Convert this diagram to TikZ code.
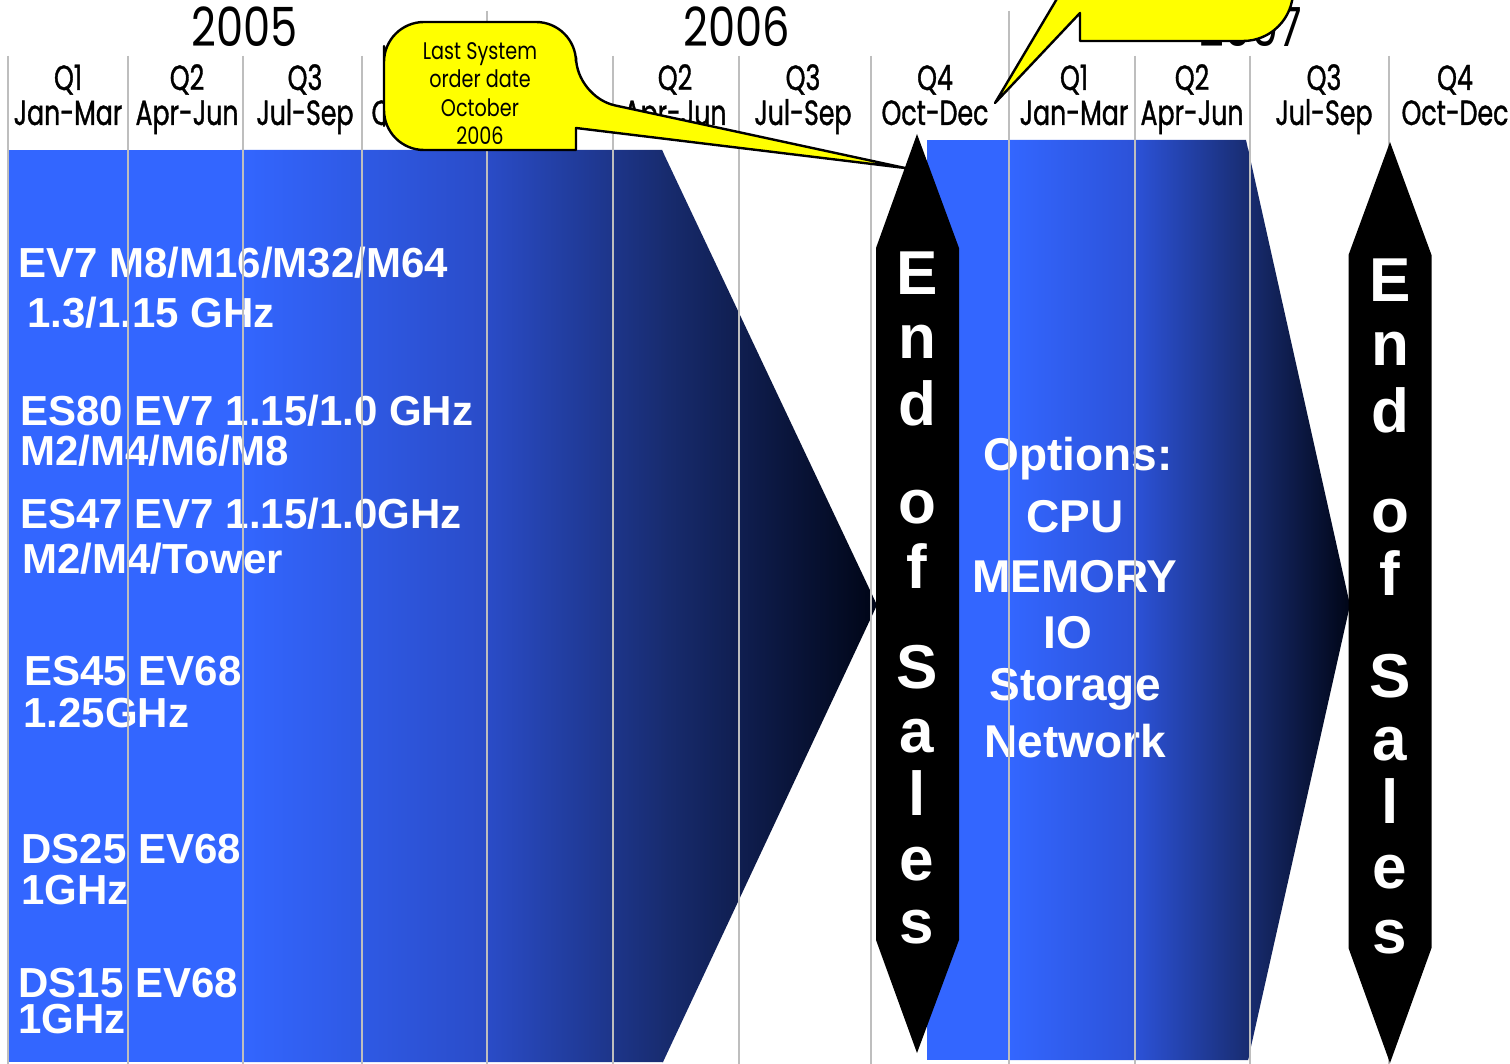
\documentclass[tikz,border=0pt]{standalone}
\usepackage{fontspec}
\setmainfont{Liberation Sans}
\newfontfamily\hdrfont[FakeStretch=0.8]{Poppins}
\newfontfamily\qfont[FakeStretch=0.72,FakeBold=1]{Poppins}
\definecolor{bA}{RGB}{51,102,255}
\definecolor{bB}{RGB}{42,76,200}
\definecolor{bC}{RGB}{24,44,112}
\definecolor{bD}{RGB}{0,5,22}
\definecolor{bE}{RGB}{44,82,216}
\definecolor{gridgray}{RGB}{190,190,190}
\definecolor{calloutyellow}{RGB}{255,255,0}
\begin{document}
\begin{tikzpicture}[x=0.5pt,y=-0.5pt,
  gridline/.style={draw=gridgray, line width=0.75pt},
  yr/.style={inner sep=0, anchor=base, font=\hdrfont\fontsize{27}{27}\selectfont},
  qlab/.style={inner sep=0, anchor=base, font=\qfont\fontsize{17.5}{17.5}\selectfont},
  prod/.style={inner sep=0, anchor=base west, text=white, font=\bfseries\fontsize{21}{21}\selectfont},
  opt/.style={inner sep=0, anchor=base, text=white, font=\bfseries\fontsize{23}{23}\selectfont},
  eos/.style={inner sep=0, anchor=base, text=white, font=\bfseries\fontsize{31}{31}\selectfont},
  callout/.style={fill=calloutyellow, draw=black, line width=1.2pt, line join=round},
  calltext/.style={inner sep=0, anchor=base, font=\hdrfont\fontsize{12}{12}\selectfont},
  eosarrow/.style={fill=black},
]
\clip (0,0) rectangle (1510,1064);
\fill[white] (0,0) rectangle (1510,1064);

% header
\node[yr] (y2005) at (245,47) {2005};
\node[yr] (y2006) at (737,47) {2006};
\node[yr] (y2007) at (1251,47) {2007};
\foreach \x/\q/\m [count=\i] in {68/Q1/Jan-Mar, 187/Q2/Apr-Jun, 305/Q3/Jul-Sep,
  675/Q2/Apr-Jun, 803/Q3/Jul-Sep, 935/Q4/Oct-Dec,
  1074/Q1/Jan-Mar, 1192/Q2/Apr-Jun, 1324/Q3/Jul-Sep, 1455/Q4/Oct-Dec} {
  \node[qlab] (q\i) at (\x,90) {\q};
  \node[qlab] (m\i) at (\x,125) {\m};
}
\node[qlab] (m0) at (425,125) {Oct-Dec};

% first blue band
\begin{scope}
\clip (8,150) -- (662,150) -- (877,605) -- (663,1062) -- (8,1062) -- cycle;
\fill[bA] (8,150) rectangle (241,1062);
\shade[left color=bA, right color=bB] (240,150) rectangle (488,1062);
\shade[left color=bB, right color=bC] (487,150) rectangle (663,1062);
\shade[left color=bC, right color=bD] (662,150) rectangle (878,1062);
\end{scope}

% second blue band
\begin{scope}
\clip (927,140) -- (1246,140) -- (1350,605) -- (1248,1060) -- (927,1060) -- cycle;
\fill[bA] (927,140) rectangle (1011,1060);
\shade[left color=bA, right color=bE] (1010,140) rectangle (1136,1060);
\shade[left color=bE, right color=bC] (1135,140) rectangle (1249,1060);
\shade[left color=bC, right color=bD] (1248,140) rectangle (1351,1060);
\end{scope}

% product texts
\node[prod] (p1) at (18,278) {EV7 M8/M16/M32/M64};
\node[prod] (p2) at (27,328) {1.3/1.15 GHz};
\node[prod] (p3) at (20,425) {ES80 EV7 1.15/1.0 GHz};
\node[prod] (p4) at (20,465) {M2/M4/M6/M8};
\node[prod] (p5) at (20,528) {ES47 EV7 1.15/1.0GHz};
\node[prod] (p6) at (22,573) {M2/M4/Tower};
\node[prod] (p7) at (24,685) {ES45 EV68};
\node[prod] (p8) at (23,727) {1.25GHz};
\node[prod] (p9) at (21,863) {DS25 EV68};
\node[prod] (p10) at (21,904) {1GHz};
\node[prod] (p11) at (18,997) {DS15 EV68};
\node[prod] (p12) at (18,1033) {1GHz};

% options text
\node[opt] (o1) at (1078,470) {Options:};
\node[opt] (o2) at (1075,532) {CPU};
\node[opt] (o3) at (1075,592) {MEMORY};
\node[opt] (o4) at (1068,648) {IO};
\node[opt] (o5) at (1075,700) {Storage};
\node[opt] (o6) at (1075,757) {Network};

% grid lines
\foreach \x in {8,128,243,362,613,739,871,1135,1250,1389}
  \draw[gridline] (\x,56) -- (\x,1064);
\foreach \x in {487,1009}
  \draw[gridline] (\x,11) -- (\x,1064);

% callouts
\draw[callout] (384,86) [rounded corners=20] -- (384,22) -- (576,22) -- (576,97) [sharp corners] -- (905,168) -- (576,128) -- (576,150) [rounded corners=20] -- (384,150) -- cycle;
\node[calltext] (c1) at (480,60) {Last System};
\node[calltext] (c2) at (480,88) {order date};
\node[calltext] (c3) at (480,117) {October};
\node[calltext] (c4) at (480,145) {2006};

\draw[callout] (1080,-40) -- (995,103) -- (1080,13) -- (1080,41) [rounded corners=25] -- (1293,41) -- (1293,-80) [sharp corners] -- (1080,-80) -- cycle;

% End of Sales markers
\fill[eosarrow] (917,134) -- (959,248) -- (959,940) -- (917,1053) -- (876,940) -- (876,248) -- cycle;
\fill[eosarrow] (1390,142) -- (1431.5,255) -- (1431.5,948) -- (1390,1063) -- (1348.5,948) -- (1348.5,255) -- cycle;
\foreach \l/\ya/\yb [count=\i] in {E/295/302, n/358/365, d/425/432, o/523/532, f/588/595, S/688/697, a/752/760, l/815/823, e/880/888, s/943/953} {
  \node[eos] (ea\i) at (917,\ya) {\l};
  \node[eos] (eb\i) at (1390,\yb) {\l};
}
\end{tikzpicture}
\end{document}
